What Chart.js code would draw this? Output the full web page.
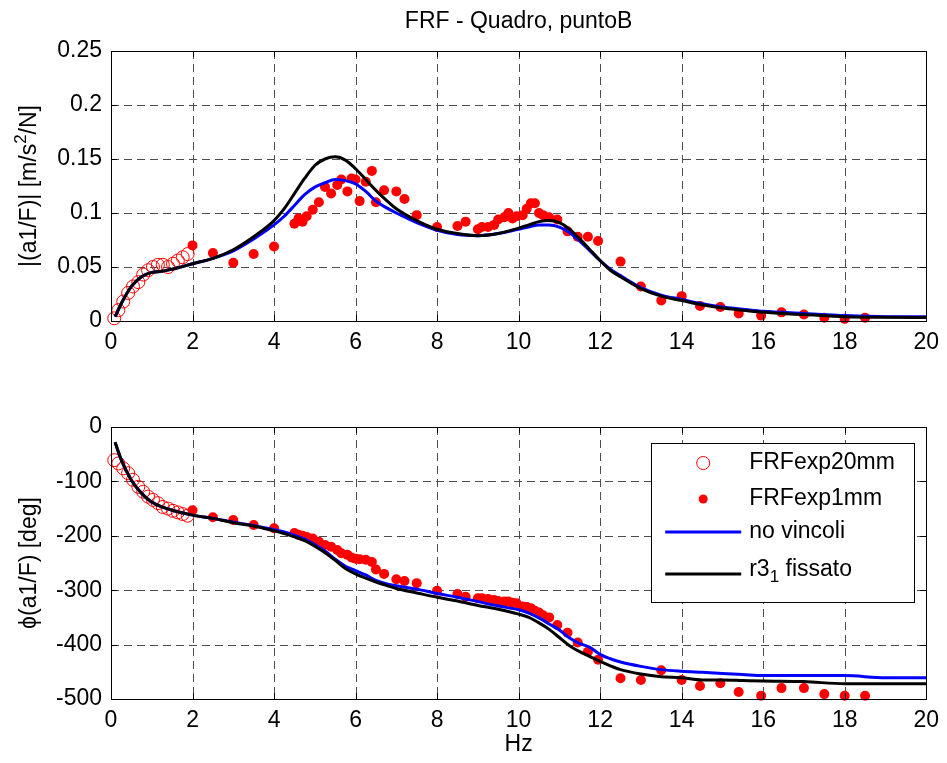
<!DOCTYPE html>
<html>
<head>
<meta charset="utf-8">
<title>FRF - Quadro, puntoB</title>
<script src="https://cdn.jsdelivr.net/npm/chart.js@4.4.0/dist/chart.umd.min.js"></script>
<style>
  html, body { margin: 0; padding: 0; background: #fff; }
  #wrap { position: relative; width: 947px; height: 763px; }
  .plot { position: absolute; left: 0; width: 947px; }
</style>
</head>
<body>
<div id="wrap">
  <div class="plot" style="top:0; height:360px"><canvas id="magChart"></canvas></div>
  <div class="plot" style="top:360px; height:403px"><canvas id="phaseChart"></canvas></div>
</div>
<script>
// measured FRF, 20 mm accelerometer (low band only)
const freq20 = [0.08, 0.18, 0.30, 0.42, 0.54, 0.67, 0.79, 0.91, 1.03, 1.15, 1.27, 1.40, 1.52, 1.64, 1.76, 1.88];
const mag20 = [0.0025, 0.010, 0.018, 0.026, 0.032, 0.036, 0.043, 0.047, 0.050, 0.052, 0.052, 0.050, 0.053, 0.056, 0.059, 0.062];
const phase20 = [-61, -67, -76, -85, -97, -110, -119, -128, -134, -140, -147, -150, -154, -157, -160, -163];

// measured FRF, 1 mm accelerometer
const freq1 = [2.0, 2.5, 3.0, 3.5, 4.0, 4.5, 4.6, 4.7, 4.8, 4.95, 5.1, 5.25, 5.4, 5.55, 5.65, 5.8, 5.9, 6.0,
  6.1, 6.25, 6.4, 6.5, 6.7, 7.0, 7.2, 7.5, 8.0, 8.5, 8.7, 9.0, 9.1, 9.25, 9.4, 9.5, 9.65, 9.75, 9.85, 9.95,
  10.1, 10.2, 10.3, 10.4, 10.5, 10.6, 10.75, 10.95, 11.2, 11.45, 11.7, 11.95, 12.5, 13.0, 13.5, 14.0, 14.45,
  14.95, 15.4, 15.95, 16.45, 17.0, 17.5, 18.0, 18.5];
const mag1 = [0.070, 0.063, 0.054, 0.062, 0.069, 0.090, 0.095, 0.092, 0.097, 0.103, 0.110, 0.124, 0.118, 0.126,
  0.131, 0.120, 0.132, 0.131, 0.111, 0.129, 0.139, 0.110, 0.121, 0.120, 0.113, 0.098, 0.087, 0.088, 0.092, 0.085,
  0.087, 0.087, 0.089, 0.094, 0.096, 0.100, 0.095, 0.097, 0.098, 0.104, 0.109, 0.109, 0.100, 0.098, 0.096, 0.094,
  0.083, 0.078, 0.078, 0.074, 0.055, 0.032, 0.019, 0.023, 0.014, 0.013, 0.007, 0.005, 0.008, 0.006, 0.003, 0.002, 0.003];
const phase1 = [-153, -166, -171, -180, -186, -195, -198, -200, -202, -205, -211, -217, -220, -226, -232, -235,
  -240, -242, -243, -244, -248, -262, -270, -280, -283, -287, -301, -307, -312, -315, -315, -316, -318, -320,
  -321, -321, -323, -324, -330, -331, -333, -338, -341, -346, -350, -364, -378, -396, -413, -428, -462, -465,
  -447, -465, -476, -471, -487, -494, -480, -480, -491, -494, -494];

// numerical model: free vs r3_1 fixed
const freqModel = [0.1, 0.25, 0.5, 0.75, 1, 1.25, 1.5, 2, 2.5, 3, 3.5, 4, 4.25, 4.5, 4.75, 5, 5.25, 5.5, 5.75,
  6, 6.25, 6.5, 6.75, 7, 7.5, 8, 8.5, 9, 9.5, 10, 10.25, 10.5, 10.75, 11, 11.25, 11.5, 11.75, 12, 12.25, 12.5,
  13, 13.5, 14, 14.5, 15, 15.5, 16, 17, 18, 19, 20];
const magFree = [0.004, 0.016, 0.032, 0.041, 0.045, 0.046, 0.048, 0.053, 0.058, 0.065, 0.076, 0.089, 0.097, 0.107,
  0.117, 0.124, 0.128, 0.131, 0.130, 0.127, 0.120, 0.111, 0.105, 0.100, 0.091, 0.084, 0.080, 0.079, 0.081, 0.085,
  0.087, 0.089, 0.089, 0.087, 0.082, 0.074, 0.065, 0.056, 0.048, 0.042, 0.031, 0.024, 0.020, 0.016, 0.013, 0.011,
  0.009, 0.007, 0.005, 0.004, 0.004];
const magFixed = [0.004, 0.016, 0.032, 0.041, 0.045, 0.046, 0.048, 0.053, 0.058, 0.066, 0.078, 0.093, 0.104, 0.118,
  0.132, 0.144, 0.150, 0.152, 0.149, 0.141, 0.131, 0.121, 0.112, 0.104, 0.093, 0.085, 0.081, 0.079, 0.081, 0.086,
  0.089, 0.092, 0.093, 0.091, 0.085, 0.076, 0.066, 0.056, 0.047, 0.041, 0.030, 0.023, 0.019, 0.015, 0.012, 0.010,
  0.008, 0.006, 0.004, 0.0035, 0.0033];
const phaseFree = [-28, -60, -98, -122, -138, -147, -153, -162, -168, -175, -181, -189, -193, -199, -206, -216, -228,
  -243, -256, -264, -272, -282, -288, -292, -298, -306, -313, -321, -329, -336, -342, -351, -362, -373, -388, -398,
  -405, -418, -426, -432, -440, -446, -449, -451, -453, -455, -457, -457, -457, -461, -461];
const phaseFixed = [-28, -60, -98, -122, -138, -147, -153, -162, -168, -176, -182, -191, -196, -202, -209, -219, -231,
  -245, -260, -270, -278, -285, -291, -297, -305, -313, -320, -328, -335, -344, -350, -360, -372, -387, -402, -413,
  -422, -431, -439, -446, -454, -459, -461, -465, -465, -466, -467, -468, -472, -472, -472];

const freqTicks = [0, 2, 4, 6, 8, 10, 12, 14, 16, 18, 20];
const magTicks = [0, 0.05, 0.1, 0.15, 0.2, 0.25];
const phaseTicks = [-500, -400, -300, -200, -100, 0];

const FONT = 'Arial, "Liberation Sans", sans-serif';
const FONT_SIZE = 23;

function seriesPoints(xs, ys) {
  return xs.map((x, i) => ({ x: x, y: ys[i] }));
}

// splits "_c" / "^c" markup into runs with a vertical shift and size
function richRuns(text, size) {
  const runs = [];
  for (let i = 0; i < text.length; i++) {
    let ch = text[i], dy = 0, s = size;
    if ((ch === '_' || ch === '^') && i + 1 < text.length) {
      dy = ch === '_' ? size * 0.32 : -size * 0.38;
      s = Math.round(size * 0.75);
      ch = text[++i];
    }
    runs.push({ ch, dy, s });
  }
  return runs;
}

function richWidth(ctx, text, size) {
  return richRuns(text, size).reduce((w, r) => {
    ctx.font = r.s + 'px ' + FONT;
    return w + ctx.measureText(r.ch).width;
  }, 0);
}

function drawRichText(ctx, text, x, y, size) {
  let cx = x;
  richRuns(text, size).forEach(r => {
    ctx.font = r.s + 'px ' + FONT;
    ctx.fillText(r.ch, cx, y + r.dy);
    cx += ctx.measureText(r.ch).width;
  });
}

// matlab-like axes: dashed grid under the data, box with inward ticks,
// title and y label over it
const axesBox = {
  id: 'axesBox',
  beforeDatasetsDraw(chart) {
    const { ctx, chartArea: a, scales } = chart;
    ctx.save();
    ctx.strokeStyle = '#4d4d4d';
    ctx.lineWidth = 1;
    ctx.setLineDash([8, 5]);
    ctx.beginPath();
    scales.x.ticks.forEach(t => {
      const px = Math.round(scales.x.getPixelForValue(t.value)) + 0.5;
      ctx.moveTo(px, a.top); ctx.lineTo(px, a.bottom);
    });
    scales.y.ticks.forEach(t => {
      const py = Math.round(scales.y.getPixelForValue(t.value)) + 0.5;
      ctx.moveTo(a.left, py); ctx.lineTo(a.right, py);
    });
    ctx.stroke();
    ctx.restore();
  },
  afterDatasetsDraw(chart, args, opts) {
    const { ctx, chartArea: a, scales } = chart;
    const len = 6;
    ctx.save();
    ctx.strokeStyle = '#000';
    ctx.lineWidth = 1;
    ctx.setLineDash([]);
    ctx.beginPath();
    scales.x.ticks.forEach(t => {
      const px = Math.round(scales.x.getPixelForValue(t.value)) + 0.5;
      ctx.moveTo(px, a.bottom); ctx.lineTo(px, a.bottom - len);
      ctx.moveTo(px, a.top); ctx.lineTo(px, a.top + len);
    });
    scales.y.ticks.forEach(t => {
      const py = Math.round(scales.y.getPixelForValue(t.value)) + 0.5;
      ctx.moveTo(a.left, py); ctx.lineTo(a.left + len, py);
      ctx.moveTo(a.right, py); ctx.lineTo(a.right - len, py);
    });
    ctx.stroke();
    ctx.strokeRect(Math.round(a.left) + 0.5, Math.round(a.top) + 0.5,
      Math.round(a.right - a.left), Math.round(a.bottom - a.top));

    ctx.fillStyle = '#000';
    ctx.textBaseline = 'middle';
    if (opts.title) {
      ctx.font = FONT_SIZE + 'px ' + FONT;
      ctx.textAlign = 'center';
      ctx.fillText(opts.title, (a.left + a.right) / 2, a.top - 29);
    }
    if (opts.yTitle) {
      ctx.textAlign = 'left';
      const w = richWidth(ctx, opts.yTitle, FONT_SIZE);
      ctx.translate(30, (a.top + a.bottom) / 2);
      ctx.rotate(-Math.PI / 2);
      drawRichText(ctx, opts.yTitle, -w / 2, 0, FONT_SIZE);
    }
    ctx.restore();
  }
};

// boxed legend in the upper right corner of the phase plot
const boxLegend = {
  id: 'boxLegend',
  afterDraw(chart) {
    const { ctx, chartArea: a } = chart;
    const w = 263, h = 159;
    const left = a.right - 12 - w, top = a.top + 16;
    const rows = [20, 56, 89, 127];
    ctx.save();
    ctx.fillStyle = '#fff';
    ctx.fillRect(left, top, w, h);
    ctx.strokeStyle = '#000';
    ctx.lineWidth = 1;
    ctx.strokeRect(Math.round(left) + 0.5, Math.round(top) + 0.5, w, h);
    ctx.textBaseline = 'middle';
    ctx.textAlign = 'left';
    chart.data.datasets.forEach((ds, i) => {
      const y = top + rows[i];
      if (ds.showLine) {
        ctx.strokeStyle = ds.borderColor;
        ctx.lineWidth = ds.borderWidth;
        ctx.beginPath();
        ctx.moveTo(left + 14, y + (i === 3 ? 4 : 0));
        ctx.lineTo(left + 90, y + (i === 3 ? 4 : 0));
        ctx.stroke();
      } else if (ds.pointBackgroundColor === 'transparent') {
        ctx.strokeStyle = ds.pointBorderColor;
        ctx.lineWidth = 1;
        ctx.beginPath();
        ctx.arc(left + 52, y, 6.5, 0, Math.PI * 2);
        ctx.stroke();
      } else {
        ctx.fillStyle = ds.pointBackgroundColor;
        ctx.beginPath();
        ctx.arc(left + 52, y, 4.5, 0, Math.PI * 2);
        ctx.fill();
      }
      ctx.fillStyle = '#000';
      drawRichText(ctx, ds.label, left + 98, y, FONT_SIZE);
    });
    ctx.restore();
  }
};

function buildDatasets(y20, y1, yFree, yFixed) {
  return [
    {
      label: 'FRFexp20mm', data: seriesPoints(freq20, y20), showLine: false,
      pointRadius: 6.5, pointBorderWidth: 1, pointBorderColor: '#ff0000',
      pointBackgroundColor: 'transparent', order: 4, clip: false
    },
    {
      label: 'FRFexp1mm', data: seriesPoints(freq1, y1), showLine: false,
      pointRadius: 5, pointBorderWidth: 0, pointBorderColor: '#ff0000',
      pointBackgroundColor: '#ff0000', order: 3, clip: false
    },
    {
      label: 'no vincoli', data: seriesPoints(freqModel, yFree), showLine: true,
      borderColor: '#0000ff', borderWidth: 3, pointRadius: 0,
      cubicInterpolationMode: 'monotone', order: 2
    },
    {
      label: 'r3_1 fissato', data: seriesPoints(freqModel, yFixed), showLine: true,
      borderColor: '#000000', borderWidth: 3, pointRadius: 0,
      cubicInterpolationMode: 'monotone', order: 1
    }
  ];
}

function buildOptions(cfg) {
  const tickFont = { family: FONT, size: FONT_SIZE };
  const grid = { display: false, drawTicks: false };
  return {
    responsive: true,
    maintainAspectRatio: false,
    animation: false,
    layout: { padding: { left: 0, right: 15, top: cfg.padTop, bottom: 0 } },
    plugins: {
      legend: { display: false },
      tooltip: { enabled: false },
      title: { display: false },
      axesBox: { title: cfg.title, yTitle: cfg.yTitle }
    },
    scales: {
      x: {
        type: 'linear', min: 0, max: 20,
        afterBuildTicks: s => { s.ticks = freqTicks.map(v => ({ value: v })); },
        afterFit: s => { s.height = cfg.xHeight; },
        ticks: { color: '#000', font: tickFont, padding: 8, maxRotation: 0, callback: v => String(v) },
        grid: grid,
        border: { display: false },
        title: cfg.xTitle ? {
          display: true, text: cfg.xTitle, color: '#000', font: tickFont,
          padding: { top: 0, bottom: 5 }
        } : { display: false }
      },
      y: {
        type: 'linear', min: cfg.yMin, max: cfg.yMax,
        afterBuildTicks: s => { s.ticks = cfg.yTicks.map(v => ({ value: v })); },
        afterFit: s => { s.width = 111; },
        ticks: { color: '#000', font: tickFont, padding: 9, callback: v => String(v) },
        grid: grid,
        border: { display: false }
      }
    }
  };
}

new Chart(document.getElementById('magChart'), {
  type: 'scatter',
  data: { datasets: buildDatasets(mag20, mag1, magFree, magFixed) },
  options: buildOptions({
    title: 'FRF - Quadro, puntoB', padTop: 51, xHeight: 39,
    yMin: 0, yMax: 0.25, yTicks: magTicks, yTitle: '|(a1/F)| [m/s^2/N]'
  }),
  plugins: [axesBox]
});

new Chart(document.getElementById('phaseChart'), {
  type: 'scatter',
  data: { datasets: buildDatasets(phase20, phase1, phaseFree, phaseFixed) },
  options: buildOptions({
    title: null, padTop: 67, xHeight: 64, xTitle: 'Hz',
    yMin: -500, yMax: 0, yTicks: phaseTicks, yTitle: '\u03d5(a1/F) [deg]'
  }),
  plugins: [axesBox, boxLegend]
});
</script>
</body>
</html>
